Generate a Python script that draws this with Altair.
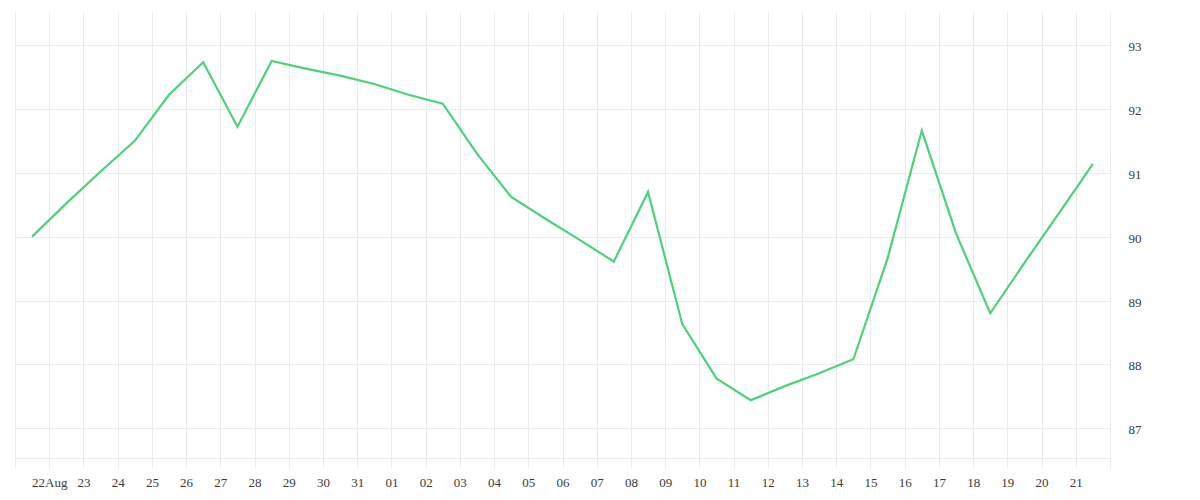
import altair as alt
import pandas as pd

dates = [
    "2023-08-21T12:00:00Z", "2023-08-22T12:00:00Z", "2023-08-23T12:00:00Z", "2023-08-24T12:00:00Z",
    "2023-08-25T12:00:00Z", "2023-08-26T12:00:00Z", "2023-08-27T12:00:00Z", "2023-08-28T12:00:00Z",
    "2023-08-29T12:00:00Z", "2023-08-30T12:00:00Z", "2023-08-31T12:00:00Z", "2023-09-01T12:00:00Z",
    "2023-09-02T12:00:00Z", "2023-09-03T12:00:00Z", "2023-09-04T12:00:00Z", "2023-09-05T12:00:00Z",
    "2023-09-06T12:00:00Z", "2023-09-07T12:00:00Z", "2023-09-08T12:00:00Z", "2023-09-09T12:00:00Z",
    "2023-09-10T12:00:00Z", "2023-09-11T12:00:00Z", "2023-09-12T12:00:00Z", "2023-09-13T12:00:00Z",
    "2023-09-14T12:00:00Z", "2023-09-15T12:00:00Z", "2023-09-16T12:00:00Z", "2023-09-17T12:00:00Z",
    "2023-09-18T12:00:00Z", "2023-09-19T12:00:00Z", "2023-09-20T12:00:00Z", "2023-09-21T12:00:00Z",
]
values = [
    90.00, 90.52, 91.02, 91.50, 92.22, 92.73, 91.72, 92.75,
    92.63, 92.52, 92.39, 92.22, 92.08, 91.30, 90.62, 90.28,
    89.95, 89.61, 90.70, 88.63, 87.78, 87.44, 87.66, 87.86,
    88.08, 89.66, 91.66, 90.05, 88.80, 89.59, 90.36, 91.14,
]
y_ticks = [87, 88, 89, 90, 91, 92, 93]

df = pd.DataFrame({"date": dates, "value": values})

GRID = "#ebebeb"
LABEL = "#3a3a3a"
FONT = "Liberation Serif"

label_expr = (
    "(utcmonth(datum.value) == 7 && utcdate(datum.value) == 21) || "
    "(utcmonth(datum.value) == 8 && utcdate(datum.value) == 22) ? '' : "
    "(utcmonth(datum.value) == 7 && utcdate(datum.value) == 22 ? '22Aug' : "
    "utcFormat(datum.value, '%d'))"
)

chart = alt.Chart(df).mark_line(color="#4cd27a", strokeWidth=2.2).encode(
    x=alt.X(
        "date:T",
        scale=alt.Scale(
            type="utc",
            domain=[
                alt.DateTime(year=2023, month=8, date=21, utc=True),
                alt.DateTime(year=2023, month=9, date=22, utc=True),
            ],
            nice=False,
        ),
        axis=alt.Axis(
            title=None,
            tickCount=alt.TickCount(interval="day", step=1),
            labelExpr=label_expr,
            grid=True,
            gridColor=GRID,
            domainColor=GRID,
            tickColor=GRID,
            tickSize=10,
            labelPadding=8,
            labelFont=FONT,
            labelFontSize=13,
            labelColor=LABEL,
            labelOverlap=False,
            labelFlush=False,
        ),
    ),
    y=alt.Y(
        "value:Q",
        scale=alt.Scale(domain=[86.535, 93.516], nice=False, zero=False),
        axis=alt.Axis(
            title=None,
            orient="right",
            values=y_ticks,
            grid=True,
            gridColor=GRID,
            domainColor=GRID,
            ticks=False,
            labelPadding=18,
            labelOffset=1.5,
            labelFont=FONT,
            labelFontSize=13,
            labelColor=LABEL,
        ),
    ),
).properties(
    width=1095,
    height=446,
    autosize=alt.AutoSizeParams(type="none"),
    padding={"left": 7, "top": 4, "right": 70, "bottom": 36},
).configure_view(strokeWidth=0)

chart.save("out.html", embed_options={"renderer": "svg", "actions": False})
